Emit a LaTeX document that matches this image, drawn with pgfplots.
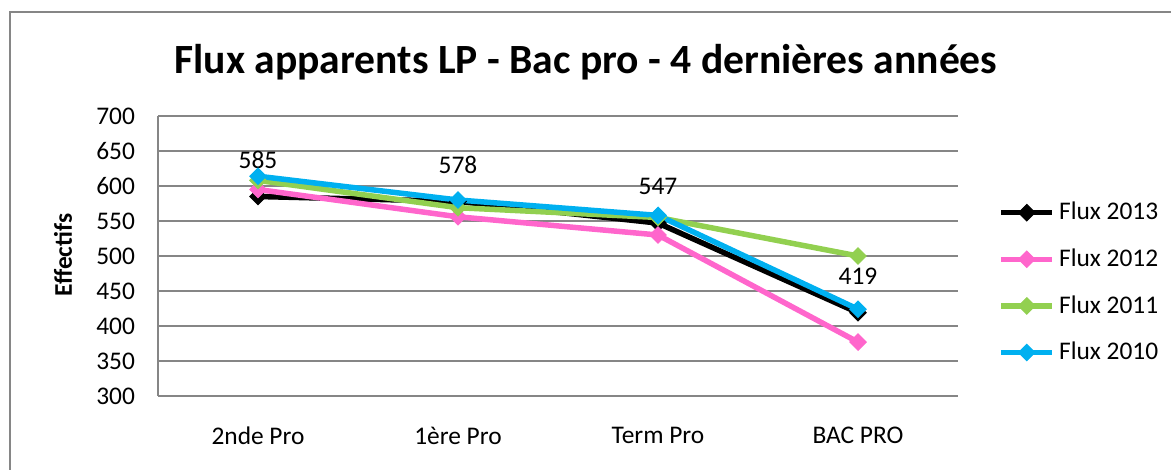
\documentclass[border=0pt]{standalone}
\usepackage{pgfplots}
\pgfplotsset{compat=1.18}
\usepackage{fontspec}
\setmainfont{Carlito}

\definecolor{gridgray}{HTML}{868686}
\definecolor{fxblack}{HTML}{000000}
\definecolor{fxpink}{HTML}{FF66CC}
\definecolor{fxgreen}{HTML}{92D050}
\definecolor{fxblue}{HTML}{00B0F0}

\newcommand\lab{\fontsize{12.7}{15}\selectfont}

\begin{document}
\begin{tikzpicture}
% page = 1171 x 470 px at 0.5pt per px
\useasboundingbox (0,0) rectangle (585.5pt,235pt);
\draw[gridgray, line width=1pt] (5pt,-5pt) -- (5pt,229pt) -- (600pt,229pt);

\node[font=\fontsize{20.8}{24}\selectfont\bfseries] at (293pt,204pt) {Flux apparents LP - Bac pro - 4 dernières années};
\node[font=\lab\bfseries, rotate=90] at (31.5pt,107.5pt) {Effectifs};

\begin{axis}[
  at={(79pt,37pt)}, anchor=south west,
  scale only axis,
  width=400pt, height=140pt,
  xmin=-0.5, xmax=3.5,
  ymin=300, ymax=700,
  ytick distance=50,
  xtick={0,1,2,3},
  xticklabels={2nde Pro,1ère Pro,Term Pro,BAC PRO},
  axis x line=bottom, axis y line=left,
  axis line style={gridgray, line width=1pt, -},
  major tick length=0pt,
  ymajorgrids,
  grid style={gridgray, line width=1pt},
  tick label style={font=\lab, text=black},
  /pgf/number format/assume math mode=true,
  yticklabel style={xshift=-8pt},
  xticklabel style={yshift=-12pt},
  every axis plot/.append style={line width=2.75pt, mark=square*, mark size=2.9pt,
    mark options={solid, rotate=45, line width=0.5pt}},
  legend style={at={(1.05,0.405)}, anchor=west, draw=none, font=\lab,
    inner sep=0pt, row sep=9pt, cells={anchor=west}},
  legend image code/.code={
    \draw[mark repeat=2, mark phase=2] plot coordinates {(0cm,0cm) (0.45cm,0cm) (0.9cm,0cm)};},
]
\addplot[color=fxblack, nodes near coords, point meta=explicit symbolic,
  every node near coord/.append style={font=\lab, text=black, yshift=10.5pt}]
  coordinates {(0,585) [585] (1,578) [578] (2,547) [547] (3,419) [419]};
\addplot[color=fxpink] coordinates {(0,595) (1,556) (2,530) (3,377)};
\addplot[color=fxgreen] coordinates {(0,608) (1,569) (2,555) (3,500)};
\addplot[color=fxblue] coordinates {(0,614) (1,580) (2,558) (3,424)};
\legend{Flux 2013,Flux 2012,Flux 2011,Flux 2010}
\end{axis}
\end{tikzpicture}
\end{document}
